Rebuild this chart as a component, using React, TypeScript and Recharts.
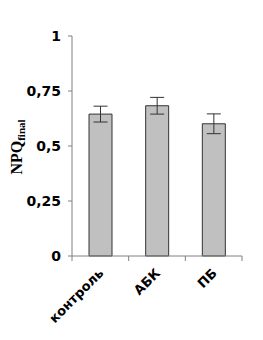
import React from 'react';
import { BarChart, Bar, XAxis, YAxis, ErrorBar, Label } from 'recharts';

const categories = ['контроль', 'АБК', 'ПБ'];
const npqValues = [0.645, 0.683, 0.601];
const npqErrors = [0.036, 0.038, 0.045];
const yTicks = [0, 0.25, 0.5, 0.75, 1];
const yTickLabels = ['0', '0,25', '0,5', '0,75', '1'];

const data = categories.map((name, i) => ({
  name,
  npq: npqValues[i],
  err: npqErrors[i],
}));

const W = 263;
const H = 340;
const margin = { top: 36, right: 21, left: 0, bottom: 0 };
const yAxisWidth = 72;
const band = (W - yAxisWidth - margin.right) / categories.length;
const axisColor = '#808080';
const tickFont = '"DejaVu Sans", sans-serif';

const XTick = (props: any) => {
  const { x, y, payload, index } = props;
  const last = index === categories.length - 1;
  return (
    <g>
      <line x1={x - band / 2} y1={y - 8} x2={x - band / 2} y2={y - 3} stroke={axisColor} />
      {last && <line x1={x + band / 2} y1={y - 8} x2={x + band / 2} y2={y - 3} stroke={axisColor} />}
      <text
        x={x + 4}
        y={y + 10}
        transform={`rotate(-45, ${x + 4}, ${y + 10})`}
        textAnchor="end"
        fontFamily={tickFont}
        fontWeight="bold"
        fontSize={13}
        fill="#000"
      >
        {payload.value}
      </text>
    </g>
  );
};

const YTick = (props: any) => {
  const { y, payload } = props;
  return (
    <text
      x={61}
      y={y + 5}
      textAnchor="end"
      fontFamily={tickFont}
      fontWeight="bold"
      fontSize={14}
      fill="#000"
    >
      {yTickLabels[yTicks.indexOf(payload.value)]}
    </text>
  );
};

const YLabel = () => (
  <text
    x={22}
    y={147}
    transform="rotate(-90, 22, 147)"
    textAnchor="middle"
    fontFamily='"Liberation Serif", serif'
    fontWeight="bold"
    fontSize={16}
    fill="#000"
  >
    NPQ
    <tspan fontSize={11} dy={3}>final</tspan>
  </text>
);

export default function App() {
  return (
    <div style={{ position: 'absolute', left: 0, top: 0, background: '#fff' }}>
      <BarChart width={W} height={H} data={data} margin={margin} barCategoryGap="20%">
        <XAxis
          dataKey="name"
          height={84}
          stroke={axisColor}
          tickLine={false}
          tick={<XTick />}
          interval={0}
        />
        <YAxis
          width={yAxisWidth}
          domain={[0, 1]}
          ticks={yTicks}
          stroke={axisColor}
          tickSize={4}
          tick={<YTick />}
        >
          <Label content={<YLabel />} />
        </YAxis>
        <Bar dataKey="npq" fill="#c0c0c0" stroke="#333" strokeWidth={1} barSize={23} isAnimationActive={false}>
          <ErrorBar dataKey="err" width={7} stroke="#333" strokeWidth={1} />
        </Bar>
      </BarChart>
    </div>
  );
}
